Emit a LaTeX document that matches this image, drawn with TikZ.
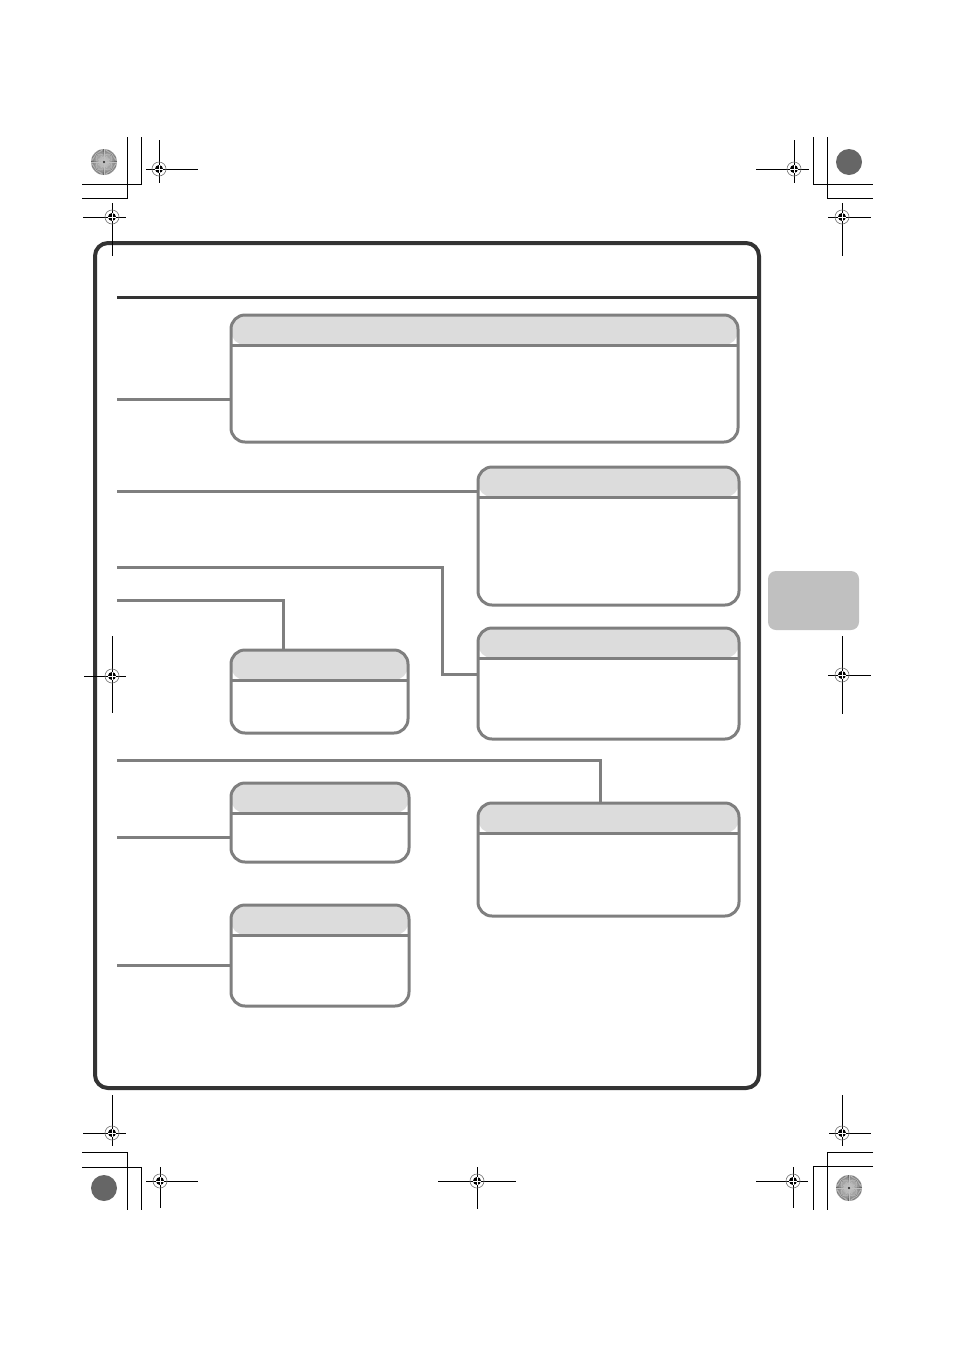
\documentclass[tikz,border=0pt]{standalone}
\usepackage{tikz}
\usetikzlibrary{positioning}
\definecolor{boxline}{HTML}{7F7F7F}
\definecolor{headfill}{HTML}{DCDCDC}
\definecolor{framegray}{HTML}{333333}
\definecolor{tabgray}{HTML}{C0C0C0}
\tikzset{
  panel/.style={draw=boxline, line width=3pt, fill=white, rounded corners=14pt,
    inner sep=0pt, outer sep=0pt,
    path picture={
      \fill[headfill] (path picture bounding box.north west) rectangle ([yshift=-30pt]path picture bounding box.north east);
      \draw[boxline, line width=3pt] ([yshift=-30pt]path picture bounding box.north west) -- ([yshift=-30pt]path picture bounding box.north east);
    }},
  link/.style={draw=boxline, line width=3pt},
  cropline/.style={black, line width=1pt},
}
\newcommand{\regmark}[6]{%
  \draw[cropline] (#1-#3,#2) -- (#1+#4,#2) (#1,#2-#5) -- (#1,#2+#6);
  \draw[black!55, line width=0.6pt] (#1,#2) circle (7);
  \fill (#1,#2) circle (4);
  \draw[white, line width=0.8pt] (#1-4,#2) -- (#1+4,#2) (#1,#2-4) -- (#1,#2+4);
}
\newcommand{\starmark}[2]{%
  \fill[black!62] (#1,#2) circle (13);
  \foreach \a in {0,6,...,354} \draw[black!25, line width=0.6pt] (#1,#2) ++(\a:1.5) -- ++(\a:11.5);
  \fill[black!75] (#1,#2) circle (1.2);
}

\begin{document}
\begin{tikzpicture}[x=1pt, y=-1pt]
  \useasboundingbox (0,0) rectangle (954,1350);

  % page frame and tab
  \draw[framegray, line width=4pt, rounded corners=13pt] (95,243) rectangle (759,1088);
  \draw[framegray, line width=3pt] (117,297) -- (759,297);
  \fill[tabgray, rounded corners=8pt] (768,571) rectangle (859,630);

  % panels
  \node[panel, minimum width=507pt, minimum height=127pt] (pnlwide) at (484.5,378.5) {};
  \node[panel, minimum width=261pt, minimum height=138pt] (pnlupper) at (608.5,536) {};
  \node[panel, minimum width=261pt, minimum height=111pt] (pnlmid) at (608.5,683.5) {};
  \node[panel, minimum width=177pt, minimum height=83pt] (pnlsmall) at (319.5,691.5) {};
  \node[panel, minimum width=261pt, minimum height=113pt] (pnllower) at (608.5,859.5) {};
  \node[panel, minimum width=178pt, minimum height=79pt] (pnlshort) at (320,822.5) {};
  \node[panel, minimum width=178pt, minimum height=101pt] (pnlbottom) at (320,955.5) {};

  % leader lines
  \coordinate (srcwide) at (117,399);
  \coordinate (srcupper) at (117,491);
  \coordinate (srcmid) at (117,567);
  \coordinate (srcsmall) at (117,600);
  \coordinate (srclower) at (117,760);
  \coordinate (srcshort) at (117,837);
  \coordinate (srcbottom) at (117,965);
  \draw[link] (srcwide) -- (srcwide -| pnlwide.west);
  \draw[link] (srcupper) -- (srcupper -| pnlupper.west);
  \draw[link] (srcmid) -- (442,567) |- ([yshift=9.5pt]pnlmid.west);
  \draw[link] (srcsmall) -| ([xshift=-36.5pt]pnlsmall.north);
  \draw[link] (srclower) -| ([xshift=-8.5pt]pnllower.north);
  \draw[link] (srcshort) -- (srcshort -| pnlshort.west);
  \draw[link] (srcbottom) -- (srcbottom -| pnlbottom.west);

  % crop marks
  \draw[cropline] (127,137) -- (127,198) -- (82,198);
  \draw[cropline] (141,137) -- (141,184) -- (82,184);
  \draw[cropline] (813,137) -- (813,184) -- (873,184);
  \draw[cropline] (827,137) -- (827,198) -- (873,198);
  \draw[cropline] (82,1152) -- (127,1152) -- (127,1210);
  \draw[cropline] (82,1167) -- (141,1167) -- (141,1210);
  \draw[cropline] (873,1152) -- (827,1152) -- (827,1210);
  \draw[cropline] (873,1166) -- (813,1166) -- (813,1210);

  % colour patches
  \starmark{104}{162}
  \fill[black!60] (849,162) circle (13);
  \fill[black!60] (104,1188) circle (13);
  \starmark{849}{1188}

  % registration marks
  \regmark{159}{169}{13}{39}{29}{14}
  \regmark{112}{217}{29}{14}{14}{39}
  \regmark{794}{169}{38}{15}{29}{14}
  \regmark{842}{217}{14}{29}{14}{39}
  \regmark{112}{676}{28}{14}{40}{37}
  \regmark{842}{675}{14}{29}{39}{39}
  \regmark{112}{1133}{29}{14}{38}{13}
  \regmark{160}{1181}{14}{38}{14}{27}
  \regmark{477}{1181}{39}{39}{14}{28}
  \regmark{842}{1133}{13}{29}{38}{13}
  \regmark{793}{1181}{37}{15}{14}{27}
\end{tikzpicture}
\end{document}
